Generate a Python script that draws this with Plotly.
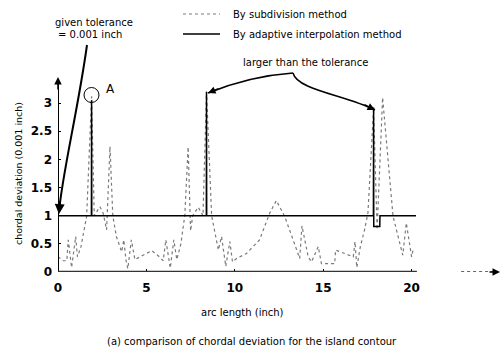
import plotly.graph_objects as go

# ---------------- data ----------------
sub_x = [0.0, 0.3, 0.5, 0.58, 0.77, 1.0, 1.1, 1.3, 1.62, 1.9, 2.05, 2.37, 2.55, 2.75, 2.94,
         3.1, 3.3, 3.6, 3.72, 3.85, 3.95, 4.15, 4.35, 4.8, 5.3, 5.7, 5.95, 6.1, 6.35, 6.55,
         6.72, 6.95, 7.17, 7.36, 7.5, 7.62, 7.93, 8.2, 8.4, 8.69, 9.07, 9.25, 9.49, 9.72,
         9.87, 10.1, 10.66, 11.4, 11.98, 12.35, 12.82, 13.3, 13.67, 13.8, 14.15, 14.34, 14.72,
         14.9, 15.65, 15.7, 16.7, 16.8, 16.9, 17.1, 17.34, 17.53, 17.85, 18.05, 18.36, 18.95,
         19.23, 19.5, 19.7, 20.0, 20.1]
sub_y = [0.27, 0.2, 0.2, 0.57, 0.08, 0.63, 0.27, 0.45, 0.99, 3.12, 1.0, 1.16, 1.05, 0.75, 2.23,
         1.0, 0.63, 0.36, 0.57, 0.2, 0.06, 0.57, 0.22, 0.3, 0.38, 0.28, 0.2, 0.57, 0.07, 0.57,
         0.22, 0.5, 1.0, 2.22, 0.73, 1.0, 1.15, 1.0, 3.2, 1.0, 0.39, 0.63, 0.1, 0.54,
         0.18, 0.24, 0.33, 0.57, 1.05, 1.27, 0.99, 0.57, 0.24, 0.82, 0.27, 0.18, 0.45,
         0.15, 0.15, 0.39, 0.27, 0.54, 0.08, 0.45, 0.75, 1.05, 2.9, 0.75, 3.1, 0.99,
         0.63, 0.3, 0.87, 0.27, 0.42]

ada_x = [0.0, 1.89, 1.9, 1.91, 8.39, 8.4, 8.41, 17.84, 17.85, 17.86, 18.2, 18.21, 20.25]
ada_y = [1.0, 1.0, 3.05, 1.0, 1.0, 3.2, 1.0, 1.0, 2.92, 0.81, 0.81, 1.0, 1.0]

x_ticks = [0, 5, 10, 15, 20]
y_ticks = [0, 0.5, 1, 1.5, 2, 2.5, 3]
y_tick_text = ["0", "0.5", "1", "1.5", "2", "2.5", "3"]

series_names = ["By subdivision method", "By adaptive interpolation method"]

# ---------------- figure ----------------
W, H = 503, 349
ML, MR, MT, MB = 58, 3, 0, 77
PW, PH = W - ML - MR, H - MT - MB
PX_PER_X = 17.68
PX_PER_Y = 56.3
x_max = PW / PX_PER_X
y_max = PH / PX_PER_Y


def dx(px):
    return (px - ML) / PX_PER_X


def dy(py):
    return (H - MB - py) / PX_PER_Y


def papx(px):
    return (px - ML) / PW


def papy(py):
    return (H - MB - py) / PH


FONT = "DejaVu Sans"
SUB_COLOR = "#7a7a7a"

fig = go.Figure()
fig.add_trace(go.Scatter(x=sub_x, y=sub_y, mode="lines", name=series_names[0],
                         line=dict(color=SUB_COLOR, width=1.2, dash="dot")))
fig.add_trace(go.Scatter(x=ada_x, y=ada_y, mode="lines", name=series_names[1],
                         line=dict(color="black", width=1.5)))

shapes = []
# axes
shapes.append(dict(type="line", xref="x", yref="y", x0=0, y0=0, x1=0, y1=3.35,
                   line=dict(color="black", width=2)))
shapes.append(dict(type="line", xref="x", yref="y", x0=0, y0=0, x1=20.3, y1=0,
                   line=dict(color="#333333", width=2.5)))
shapes.append(dict(type="line", xref="x", yref="y", x0=22.8, y0=0, x1=24.6, y1=0,
                   line=dict(color="#333333", width=1.5, dash="dot")))
# circle A
shapes.append(dict(type="circle", xref="x", yref="y", x0=dx(84), x1=dx(99), y0=dy(102.5), y1=dy(87.5),
                   line=dict(color="black", width=1)))
# tolerance arrow (curved)
shapes.append(dict(type="path", xref="x", yref="y",
                   path=f"M {dx(87)} {dy(45)} C {dx(78)} {dy(110)} {dx(62)} {dy(175)} {dx(59)} {dy(212)}",
                   line=dict(color="black", width=2)))
# "larger than the tolerance" arrows
shapes.append(dict(type="path", xref="x", yref="y",
                   path=f"M {dx(293)} {dy(73)} Q {dx(250)} {dy(76)} {dx(208)} {dy(93)}",
                   line=dict(color="black", width=1.5)))
shapes.append(dict(type="path", xref="x", yref="y",
                   path=f"M {dx(293)} {dy(73)} C {dx(297)} {dy(90)} {dx(345)} {dy(95)} {dx(375)} {dy(110)}",
                   line=dict(color="black", width=1.5)))
# manual legend samples
shapes.append(dict(type="line", xref="paper", yref="paper", x0=papx(183), x1=papx(220),
                   y0=papy(14), y1=papy(14), line=dict(color=SUB_COLOR, width=1.2, dash="dot")))
shapes.append(dict(type="line", xref="paper", yref="paper", x0=papx(183), x1=papx(220),
                   y0=papy(34), y1=papy(34), line=dict(color="black", width=1.3)))

ann = []
# axis arrowheads
ann.append(dict(x=0, y=dy(77), xref="x", yref="y", ax=0, ay=14, showarrow=True, text="",
                arrowhead=2, arrowsize=1, arrowwidth=1.5, arrowcolor="black"))
ann.append(dict(x=25, y=0, xref="x", yref="y", ax=-12, ay=0, showarrow=True, text="",
                arrowhead=2, arrowsize=1, arrowwidth=1.5, arrowcolor="black"))
# other arrowheads
ann.append(dict(x=dx(59), y=dy(214), xref="x", yref="y", ax=1, ay=-14, showarrow=True, text="",
                arrowhead=2, arrowsize=1, arrowwidth=2, arrowcolor="black"))
ann.append(dict(x=dx(208), y=dy(93), xref="x", yref="y", ax=12, ay=-5, showarrow=True, text="",
                arrowhead=2, arrowsize=1, arrowwidth=1.5, arrowcolor="black"))
ann.append(dict(x=dx(375), y=dy(110), xref="x", yref="y", ax=-12, ay=-6, showarrow=True, text="",
                arrowhead=2, arrowsize=1, arrowwidth=1.5, arrowcolor="black"))


def txt(px, py, text, size=10, xanchor="center", angle=0):
    ann.append(dict(x=papx(px), y=papy(py), xref="paper", yref="paper", showarrow=False,
                    xanchor=xanchor, yanchor="middle", textangle=angle, text=text,
                    font=dict(family=FONT, size=size, color="black")))


txt(94, 22, "given tolerance")
txt(90, 34, "= 0.001 inch")
txt(110, 89, "A", size=12)
txt(305, 63, "larger than the tolerance")
txt(242, 312, "arc length (inch)")
txt(252, 341, "(a) comparison of chordal deviation for the island contour")
txt(18, 174, "chordal deviation (0.001 inch)", size=9.5, angle=-90)
txt(231, 14, series_names[0], xanchor="left")
txt(231, 34, series_names[1], xanchor="left")

fig.update_layout(
    width=W, height=H,
    margin=dict(l=ML, r=MR, t=MT, b=MB),
    paper_bgcolor="white", plot_bgcolor="white",
    font=dict(family=FONT, size=10, color="black"),
    showlegend=False,
    shapes=shapes, annotations=ann,
    xaxis=dict(range=[0, x_max], tickvals=x_ticks, ticktext=[str(v) for v in x_ticks],
               ticks="inside", ticklen=3, tickcolor="black", showgrid=False, zeroline=False,
               showline=False, ticklabelstandoff=7,
               tickfont=dict(family=FONT, size=12, color="black", weight="bold")),
    yaxis=dict(range=[0, y_max], tickvals=y_ticks, ticktext=y_tick_text,
               ticks="inside", ticklen=3, tickcolor="black", showgrid=False, zeroline=False,
               showline=False, ticklabelstandoff=5,
               tickfont=dict(family=FONT, size=12, color="black", weight="bold")),
)

fig.write_html("out.html", config={"displayModeBar": False},
               post_script="document.body.style.margin='0';")
